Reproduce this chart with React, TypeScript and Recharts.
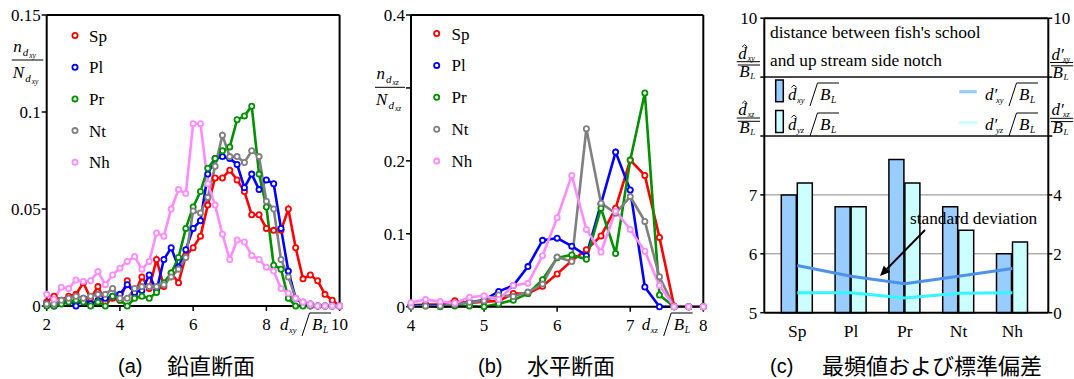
import React from 'react';
import {
  LineChart,
  Line,
  XAxis,
  YAxis,
  ComposedChart,
  Bar,
  CartesianGrid,
  ReferenceLine,
} from 'recharts';

// ---------- Panel (a) : vertical section ----------
const xA = [2, 2.2, 2.4, 2.6, 2.8, 3, 3.2, 3.4, 3.6, 3.8, 4, 4.2, 4.4, 4.6, 4.8, 5, 5.2, 5.4, 5.6, 5.8, 6, 6.2, 6.4, 6.6, 6.8, 7, 7.2, 7.4, 7.6, 7.8, 8, 8.2, 8.4, 8.6, 8.8, 9, 9.2, 9.4, 9.6, 9.8, 10];
const spA = [0.002, 0.005, 0.003, 0.005, 0.006, 0.012, 0.004, 0.01, 0.002, 0.004, 0.003, 0.013, 0.006, 0.015, 0.009, 0.024, 0.01, 0.017, 0.012, 0.026, 0.03, 0.036, 0.052, 0.066, 0.066, 0.07, 0.065, 0.059, 0.047, 0.047, 0.04, 0.039, 0.039, 0.05, 0.03, 0.014, 0.016, 0.013, 0.006, 0.003, 0];
const plA = [0.001, 0, 0.002, 0.003, 0, 0.004, 0.001, 0.003, 0.004, 0.005, 0.006, 0.011, 0.007, 0.008, 0.016, 0.008, 0.024, 0.03, 0.02, 0.029, 0.04, 0.044, 0.068, 0.076, 0.077, 0.076, 0.073, 0.061, 0.068, 0.06, 0.065, 0.063, 0.04, 0.018, 0.004, 0.001, 0.001, 0, 0, 0, 0];
const prA = [0, 0, 0.001, 0.002, 0.003, 0.002, 0, 0.002, 0, 0.005, 0.003, 0, 0.004, 0.005, 0.004, 0.007, 0.012, 0.017, 0.025, 0.04, 0.051, 0.059, 0.071, 0.076, 0.08, 0.082, 0.096, 0.098, 0.103, 0.068, 0.051, 0.021, 0.019, 0.004, 0, 0, 0, 0, 0, 0, 0];
const ntA = [0.001, 0.001, 0.003, 0.004, 0.005, 0.004, 0.005, 0.006, 0.006, 0.009, 0.004, 0.004, 0.009, 0.01, 0.01, 0.01, 0.011, 0.015, 0.019, 0.025, 0.049, 0.048, 0.056, 0.072, 0.088, 0.077, 0.077, 0.074, 0.08, 0.077, 0.054, 0.05, 0.024, 0.015, 0.004, 0.002, 0, 0, 0, 0, 0];
const nhA = [0.006, 0.0035, 0.0097, 0.009, 0.0134, 0.0126, 0.013, 0.0178, 0.011, 0.016, 0.0195, 0.023, 0.0255, 0.019, 0.023, 0.0376, 0.036, 0.05, 0.06, 0.058, 0.094, 0.094, 0.063, 0.052, 0.037, 0.024, 0.034, 0.033, 0.026, 0.024, 0.02, 0.018, 0.009, 0.0066, 0.004, 0.002, 0.001, 0, 0, 0, 0];
const ticksAX = [2, 4, 6, 8, 10];
const ticksAY = [0, 0.05, 0.1, 0.15];

// ---------- Panel (b) : horizontal section ----------
const xB = [4, 4.2, 4.4, 4.6, 4.8, 5, 5.2, 5.4, 5.6, 5.8, 6, 6.2, 6.4, 6.6, 6.8, 7, 7.2, 7.4, 7.6, 7.8, 8];
const spB = [0.002, 0.003, 0.003, 0.008, 0.005, 0.007, 0.008, 0.018, 0.018, 0.028, 0.045, 0.063, 0.078, 0.097, 0.135, 0.201, 0.18, 0.095, 0.001, 0, 0];
const plB = [0.002, 0.002, 0.002, 0.003, 0.006, 0.009, 0.021, 0.029, 0.055, 0.091, 0.094, 0.083, 0.07, 0.141, 0.212, 0.16, 0.027, 0, 0, 0, 0];
const prB = [0.001, 0.001, 0, 0.001, 0.001, 0, 0.004, 0.009, 0.018, 0.037, 0.067, 0.071, 0.065, 0.135, 0.073, 0.201, 0.293, 0.016, 0, 0, 0];
const ntB = [0, 0.001, 0.001, 0.003, 0.006, 0.008, 0.016, 0.014, 0.02, 0.031, 0.068, 0.062, 0.244, 0.142, 0.128, 0.151, 0.117, 0.041, 0, 0, 0];
const nhB = [0.0055, 0.01, 0.007, 0.005, 0.013, 0.015, 0.01, 0.029, 0.032, 0.07, 0.122, 0.18, 0.106, 0.075, 0.131, 0.106, 0.076, 0.029, 0, 0, 0];
const ticksBX = [4, 5, 6, 7, 8];
const ticksBY = [0, 0.1, 0.2, 0.3, 0.4];

// ---------- Panel (c) : mode and standard deviation ----------
const catsC = ['Sp', 'Pl', 'Pr', 'Nt', 'Nh'];
const modeXY = [7.0, 6.8, 7.6, 6.8, 6.0];
const modeXZ = [7.2, 6.8, 7.2, 6.4, 6.2];
const stdXY = [1.6, 1.24, 0.98, 1.24, 1.5];
const stdXZ = [0.68, 0.68, 0.5, 0.66, 0.68];
const ticksCL = [5, 6, 7, 8, 9, 10];
const ticksCR = [0, 2, 4, 6, 8, 10];

const SERIES = [
  { key: 'Sp', color: '#ff0000' },
  { key: 'Pl', color: '#0000ff' },
  { key: 'Pr', color: '#009000' },
  { key: 'Nt', color: '#808080' },
  { key: 'Nh', color: '#ff8cff' },
];

const SERIF = "'Liberation Serif', 'DejaVu Serif', serif";
const SANS = "'Liberation Sans', Arial, sans-serif";
const CJK = "'Noto Sans CJK JP', sans-serif";

const dataA = xA.map((x, i) => ({ x, Sp: spA[i], Pl: plA[i], Pr: prA[i], Nt: ntA[i], Nh: nhA[i] }));
const dataB = xB.map((x, i) => ({ x, Sp: spB[i], Pl: plB[i], Pr: prB[i], Nt: ntB[i], Nh: nhB[i] }));
const dataC = catsC.map((c, i) => ({ cat: c, hxy: modeXY[i], hxz: modeXZ[i], sxy: stdXY[i], sxz: stdXZ[i] }));

const axisLineStyle = { stroke: '#000', strokeWidth: 2 };
const tickLineStyle = { stroke: '#000', strokeWidth: 1.5 };

const plain = (v: any) => String(v);

// serif tick renderer
function mkTick(dy: string, fmt: (v: any) => string = plain, size = 17, anchor?: string) {
  return (props: any) => {
    const { x, y, payload, textAnchor } = props;
    const label = fmt(payload.value);
    if (!label) return <g />;
    return (
      <text
        x={x}
        y={y}
        dy={dy}
        textAnchor={anchor || textAnchor}
        fontSize={size}
        fill="#000"
        style={{ fontFamily: SERIF }}
      >
        {label}
      </text>
    );
  };
}

function seriesLines() {
  return SERIES.map((s) => (
    <Line
      key={s.key}
      dataKey={s.key}
      type="linear"
      stroke={s.color}
      strokeWidth={2.6}
      dot={{ r: 2.6, fill: '#fff', stroke: s.color, strokeWidth: 1.8 }}
      activeDot={false}
      isAnimationActive={false}
    />
  ));
}

function SeriesLegend({ cx, tx, y0, dy }: { cx: number; tx: number; y0: number; dy: number }) {
  return (
    <g>
      {SERIES.map((s, i) => (
        <g key={s.key}>
          <circle cx={cx} cy={y0 + i * dy} r={2.6} fill="#fff" stroke={s.color} strokeWidth={1.8} />
          <text x={tx} y={y0 + i * dy + 6} fontSize={17} fill="#000" style={{ fontFamily: SERIF }}>
            {s.key}
          </text>
        </g>
      ))}
    </g>
  );
}

const itStyle = { fontFamily: SERIF, fontStyle: 'italic' as const };

// fraction label n_{d_xx} / N_{d_xx}
function NFrac({ x, y, w, sub }: { x: number; y: number; w: number; sub: string }) {
  return (
    <g fill="#000" style={itStyle}>
      <text x={x + 1.5} y={y - 8} fontSize={17}>n</text>
      <text x={x + 11} y={y - 4} fontSize={11}>d</text>
      <text x={x + 17.5} y={y - 2} fontSize={7.5}>{sub}</text>
      <line x1={x} y1={y} x2={x + w} y2={y} stroke="#000" strokeWidth={1} />
      <text x={x + 1} y={y + 17.5} fontSize={17}>N</text>
      <text x={x + 13.5} y={y + 21.5} fontSize={11}>d</text>
      <text x={x + 20} y={y + 23.5} fontSize={7.5}>{sub}</text>
    </g>
  );
}

function Hat({ x, y }: { x: number; y: number }) {
  return <polyline points={`${x - 2.6},${y + 2.4} ${x},${y} ${x + 2.6},${y + 2.4}`} fill="none" stroke="#000" strokeWidth={0.9} />;
}

// d_xx / sqrt(B_L) style label
function DLabel({ x, y, sub, hat, prime }: { x: number; y: number; sub: string; hat?: boolean; prime?: boolean }) {
  const sx = prime ? x + 11 : x + 9;
  const subLen = sub.length > 1 ? 9 : 5;
  const s0 = sx + subLen + 4;
  return (
    <g fill="#000" style={itStyle}>
      {hat && <Hat x={x + 6} y={y - 15} />}
      <text x={x} y={y} fontSize={17}>{prime ? 'd′' : 'd'}</text>
      <text x={sx} y={y + 3} fontSize={8.5}>{sub}</text>
      <line x1={s0} y1={y + 6} x2={s0 + 7.5} y2={y - 17} stroke="#000" strokeWidth={1} />
      <line x1={s0 + 7.5} y1={y - 17} x2={s0 + 29} y2={y - 17} stroke="#000" strokeWidth={1} />
      <text x={s0 + 10} y={y} fontSize={17}>B</text>
      <text x={s0 + 21} y={y + 3} fontSize={9.5}>L</text>
    </g>
  );
}

// vertical axis fraction in panel (c): d / B_L with double bar
function CFrac({ x, y, sub, hat, w }: { x: number; y: number; sub: string; hat?: boolean; w: number }) {
  return (
    <g fill="#000" style={itStyle}>
      {hat && <Hat x={x + 8} y={y - 17} />}
      <text x={x + 1.5} y={y - 3} fontSize={17}>{hat ? 'd' : 'd′'}</text>
      <text x={x + (hat ? 11 : 13)} y={y - 1} fontSize={8}>{sub}</text>
      <line x1={x} y1={y} x2={x + w} y2={y} stroke="#000" strokeWidth={1} />
      <line x1={x + 1} y1={y + 3.3} x2={x + w} y2={y + 3.3} stroke="#000" strokeWidth={1} />
      <text x={x + 2.5} y={y + 15} fontSize={17}>B</text>
      <text x={x + 13.5} y={y + 17} fontSize={9}>L</text>
    </g>
  );
}

function PanelA() {
  return (
    <LineChart width={360} height={379} data={dataA} margin={{ top: 15, right: 20.4, bottom: 43, left: 6.7 }}>
      <XAxis
        dataKey="x"
        type="number"
        domain={[2, 10]}
        ticks={ticksAX}
        height={30}
        tick={mkTick('0.71em')}
        tickSize={5}
        tickMargin={7}
        axisLine={axisLineStyle}
        tickLine={tickLineStyle}
      />
      <YAxis
        type="number"
        domain={[0, 0.15]}
        ticks={ticksAY}
        width={40}
        tick={mkTick('0.355em')}
        tickSize={5}
        tickMargin={1}
        axisLine={axisLineStyle}
        tickLine={tickLineStyle}
      />
      <ReferenceLine y={0.15} stroke="#000" strokeWidth={2} />
      <ReferenceLine x={10} stroke="#000" strokeWidth={2} />
      {seriesLines()}
    </LineChart>
  );
}

function PanelB() {
  return (
    <LineChart width={360} height={379} data={dataB} margin={{ top: 15, right: 16.7, bottom: 42.3, left: 11 }}>
      <XAxis
        dataKey="x"
        type="number"
        domain={[4, 8]}
        ticks={ticksBX}
        height={30}
        tick={mkTick('0.71em')}
        tickSize={5}
        tickMargin={7}
        axisLine={axisLineStyle}
        tickLine={tickLineStyle}
      />
      <YAxis
        type="number"
        domain={[0, 0.4]}
        ticks={ticksBY}
        width={40}
        tick={mkTick('0.355em', (v: number) => (v === 0.3 ? '' : String(v)))}
        tickSize={5}
        tickMargin={1}
        axisLine={axisLineStyle}
        tickLine={tickLineStyle}
      />
      <ReferenceLine y={0.4} stroke="#000" strokeWidth={2} />
      <ReferenceLine x={8} stroke="#000" strokeWidth={2} />
      {seriesLines()}
    </LineChart>
  );
}

function PanelC() {
  return (
    <ComposedChart width={354} height={379} data={dataC} barGap={1} margin={{ top: 18.2, right: 5.7, bottom: 36.3, left: 4.3 }}>
      <CartesianGrid yAxisId="left" xAxisId="cat" vertical={false} stroke="#888" strokeWidth={1} />
      <XAxis
        xAxisId="cat"
        dataKey="cat"
        type="category"
        padding={{ left: 6, right: 9 }}
        height={30}
        tick={mkTick('0.71em', plain, 17.5)}
        tickSize={0}
        tickMargin={12}
        tickLine={false}
        axisLine={axisLineStyle}
      />
      <YAxis
        yAxisId="left"
        type="number"
        domain={[5, 10]}
        ticks={ticksCL}
        width={40}
        tick={mkTick('0.355em', (v: number) => (v === 8 || v === 9 ? '' : String(v)))}
        tickSize={4}
        tickMargin={3}
        axisLine={axisLineStyle}
        tickLine={tickLineStyle}
      />
      <YAxis
        yAxisId="right"
        orientation="right"
        type="number"
        domain={[0, 10]}
        ticks={ticksCR}
        width={20}
        tick={mkTick('0.355em', (v: number) => (v === 6 || v === 8 ? '' : String(v)), 17, 'start')}
        tickSize={4}
        tickMargin={1}
        axisLine={axisLineStyle}
        tickLine={tickLineStyle}
      />
      <ReferenceLine yAxisId="left" xAxisId="cat" y={8} stroke="#222" strokeWidth={1.5} />
      <ReferenceLine yAxisId="left" xAxisId="cat" y={9} stroke="#222" strokeWidth={1.5} />
      <ReferenceLine yAxisId="left" xAxisId="cat" y={10} stroke="#000" strokeWidth={2} />
      <Bar yAxisId="left" xAxisId="cat" dataKey="hxy" fill="#99ccff" stroke="#000" strokeWidth={1.5} barSize={15} isAnimationActive={false} />
      <Bar yAxisId="left" xAxisId="cat" dataKey="hxz" fill="#ccffff" stroke="#000" strokeWidth={1.5} barSize={15} isAnimationActive={false} />
      <Line yAxisId="right" xAxisId="cat" dataKey="sxy" type="linear" stroke="#4d91e8" strokeWidth={3} dot={false} activeDot={false} isAnimationActive={false} />
      <Line yAxisId="right" xAxisId="cat" dataKey="sxz" type="linear" stroke="#33f6ff" strokeWidth={3} dot={false} activeDot={false} isAnimationActive={false} />
    </ComposedChart>
  );
}

function Overlay() {
  const serif = { fontFamily: SERIF };
  return (
    <svg width={1074} height={379} style={{ position: 'absolute', left: 0, top: 0, pointerEvents: 'none' }}>
      {/* panel (a) */}
      <NFrac x={11.7} y={60} w={31.6} sub="xy" />
      <SeriesLegend cx={75} tx={89} y0={35.5} dy={31.7} />
      <DLabel x={280} y={330} sub="xy" />
      {/* panel (b) */}
      <NFrac x={375} y={87.3} w={30} sub="xz" />
      <SeriesLegend cx={436.7} tx={451.5} y0={33.5} dy={31.9} />
      <DLabel x={641.7} y={330} sub="xz" />
      {/* panel (c) header */}
      <text x={770} y={38} fontSize={17.5} fill="#000" style={serif}>distance between fish's school</text>
      <text x={770} y={65.5} fontSize={17.3} fill="#000" style={serif}>and up stream side notch</text>
      {/* panel (c) legend */}
      <rect x={775.7} y={80} width={7.6} height={21.7} fill="#99ccff" stroke="#000" strokeWidth={1.5} />
      <rect x={775.7} y={110.5} width={7.6} height={22} fill="#ccffff" stroke="#000" strokeWidth={1.5} />
      <DLabel x={788} y={100} sub="xy" hat />
      <DLabel x={788} y={130} sub="yz" hat />
      <line x1={959.3} y1={91.7} x2={976.7} y2={91.7} stroke="#99ccff" strokeWidth={3.3} />
      <line x1={959.3} y1={122.7} x2={976.7} y2={122.7} stroke="#ccffff" strokeWidth={3.3} />
      <DLabel x={985} y={100} sub="xy" prime />
      <DLabel x={985} y={130} sub="yz" prime />
      {/* panel (c) axis fractions */}
      <CFrac x={736.7} y={61.7} sub="xy" hat w={23.3} />
      <CFrac x={736.7} y={118} sub="xz" hat w={23.3} />
      <CFrac x={1050} y={62.5} sub="xy" w={23} />
      <CFrac x={1050} y={118.3} sub="xz" w={23} />
      {/* annotation */}
      <text x={910} y={224} fontSize={17.3} fill="#000" style={serif}>standard deviation</text>
      <line x1={925} y1={230} x2={887} y2={268.9} stroke="#000" strokeWidth={2} />
      <polygon points="880,276 890.2,272 883.8,265.7" fill="#000" />
      {/* captions */}
      <text x={118} y={373} fontSize={20} fill="#000" style={{ fontFamily: SANS }}>(a)</text>
      <text x={167} y={374} fontSize={22} fill="#000" style={{ fontFamily: CJK }}>鉛直断面</text>
      <text x={478} y={373} fontSize={20} fill="#000" style={{ fontFamily: SANS }}>(b)</text>
      <text x={527} y={374} fontSize={22} fill="#000" style={{ fontFamily: CJK }}>水平断面</text>
      <text x={770} y={373} fontSize={20} fill="#000" style={{ fontFamily: SANS }}>(c)</text>
      <text x={822} y={374} fontSize={22} fill="#000" style={{ fontFamily: CJK }}>最頻値および標準偏差</text>
    </svg>
  );
}

export default function App() {
  return (
    <div style={{ position: 'absolute', left: 0, top: 0, width: 1074, height: 379, background: '#fff', overflow: 'hidden', fontFamily: SERIF }}>
      <div style={{ position: 'absolute', left: 0, top: 0 }}>
        <PanelA />
      </div>
      <div style={{ position: 'absolute', left: 360, top: 0 }}>
        <PanelB />
      </div>
      <div style={{ position: 'absolute', left: 720, top: 0 }}>
        <PanelC />
      </div>
      <Overlay />
    </div>
  );
}
